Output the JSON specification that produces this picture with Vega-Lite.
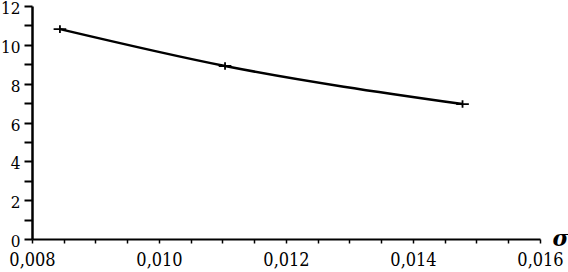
{
  "$schema": "https://vega.github.io/schema/vega-lite/v6.json",
  "autosize": {"type": "none"},
  "width": 508,
  "height": 233,
  "padding": {"left": 32, "top": 6, "right": 28, "bottom": 33},
  "background": "white",
  "data": {"values": [
    {"sigma": 0.00844, "v": 10.81},
    {"sigma": 0.01104, "v": 8.91},
    {"sigma": 0.01478, "v": 6.95}
  ]},
  "config": {"view": {"stroke": null}},
  "encoding": {
    "x": {
      "field": "sigma", "type": "quantitative",
      "scale": {"domain": [0.008, 0.016], "nice": false, "zero": false},
      "axis": {
        "values": [0.008, 0.0085, 0.009, 0.0095, 0.010, 0.0105, 0.011, 0.0115, 0.012, 0.0125, 0.013, 0.0135, 0.014, 0.0145, 0.015, 0.0155, 0.016],
        "labelExpr": "round(datum.value*2000) % 4 == 0 ? replace(format(datum.value, '.3f'), '.', ',') : ''",
        "grid": false,
        "domainColor": "black", "domainWidth": 2,
        "tickColor": "black", "tickWidth": 1.5, "tickSize": 4,
        "labelPadding": 8,
        "labelFont": "DejaVu Serif Condensed", "labelFontSize": 18, "labelColor": "black",
        "labelOverlap": false, "labelFlush": false,
        "title": "σ",
        "titleFont": "DejaVu Serif", "titleFontSize": 22, "titleFontStyle": "italic", "titleFontWeight": "bold",
        "titleColor": "black",
        "titleX": 528, "titleY": -1, "titleAlign": "center", "titleBaseline": "middle", "titleAngle": 0,
        "encode": {
          "ticks": {"update": {
            "y": {"value": -4},
            "y2": {"signal": "round(datum.value*2000) % 4 == 0 ? 4 : 0"}
          }}
        }
      }
    },
    "y": {
      "field": "v", "type": "quantitative",
      "scale": {"domain": [0, 12], "nice": false},
      "axis": {
        "values": [0, 1, 2, 3, 4, 5, 6, 7, 8, 9, 10, 11, 12],
        "labelExpr": "datum.value % 2 == 0 ? datum.label : ''",
        "grid": false,
        "domainColor": "black", "domainWidth": 2.5,
        "tickColor": "black", "tickWidth": 2, "tickSize": 8,
        "labelPadding": 4,
        "labelFont": "DejaVu Serif Condensed", "labelFontSize": 17, "labelColor": "black",
        "labelOverlap": false, "labelFlush": false,
        "labelBaseline": "middle", "labelOffset": 2.5,
        "title": null,
        "encode": {
          "ticks": {"update": {
            "x": {"signal": "datum.value % 2 == 0 ? -7 : 0"},
            "x2": {"signal": "datum.value % 2 == 0 ? 6 : 4"}
          }}
        }
      }
    }
  },
  "layer": [
    {"mark": {"type": "line", "color": "black", "strokeWidth": 2.5, "interpolate": "monotone"}},
    {"mark": {"type": "point", "shape": "M-1,0H1M0,-0.6V0.6", "filled": false, "stroke": "black", "strokeWidth": 1.8, "size": 160, "opacity": 1}}
  ]
}
